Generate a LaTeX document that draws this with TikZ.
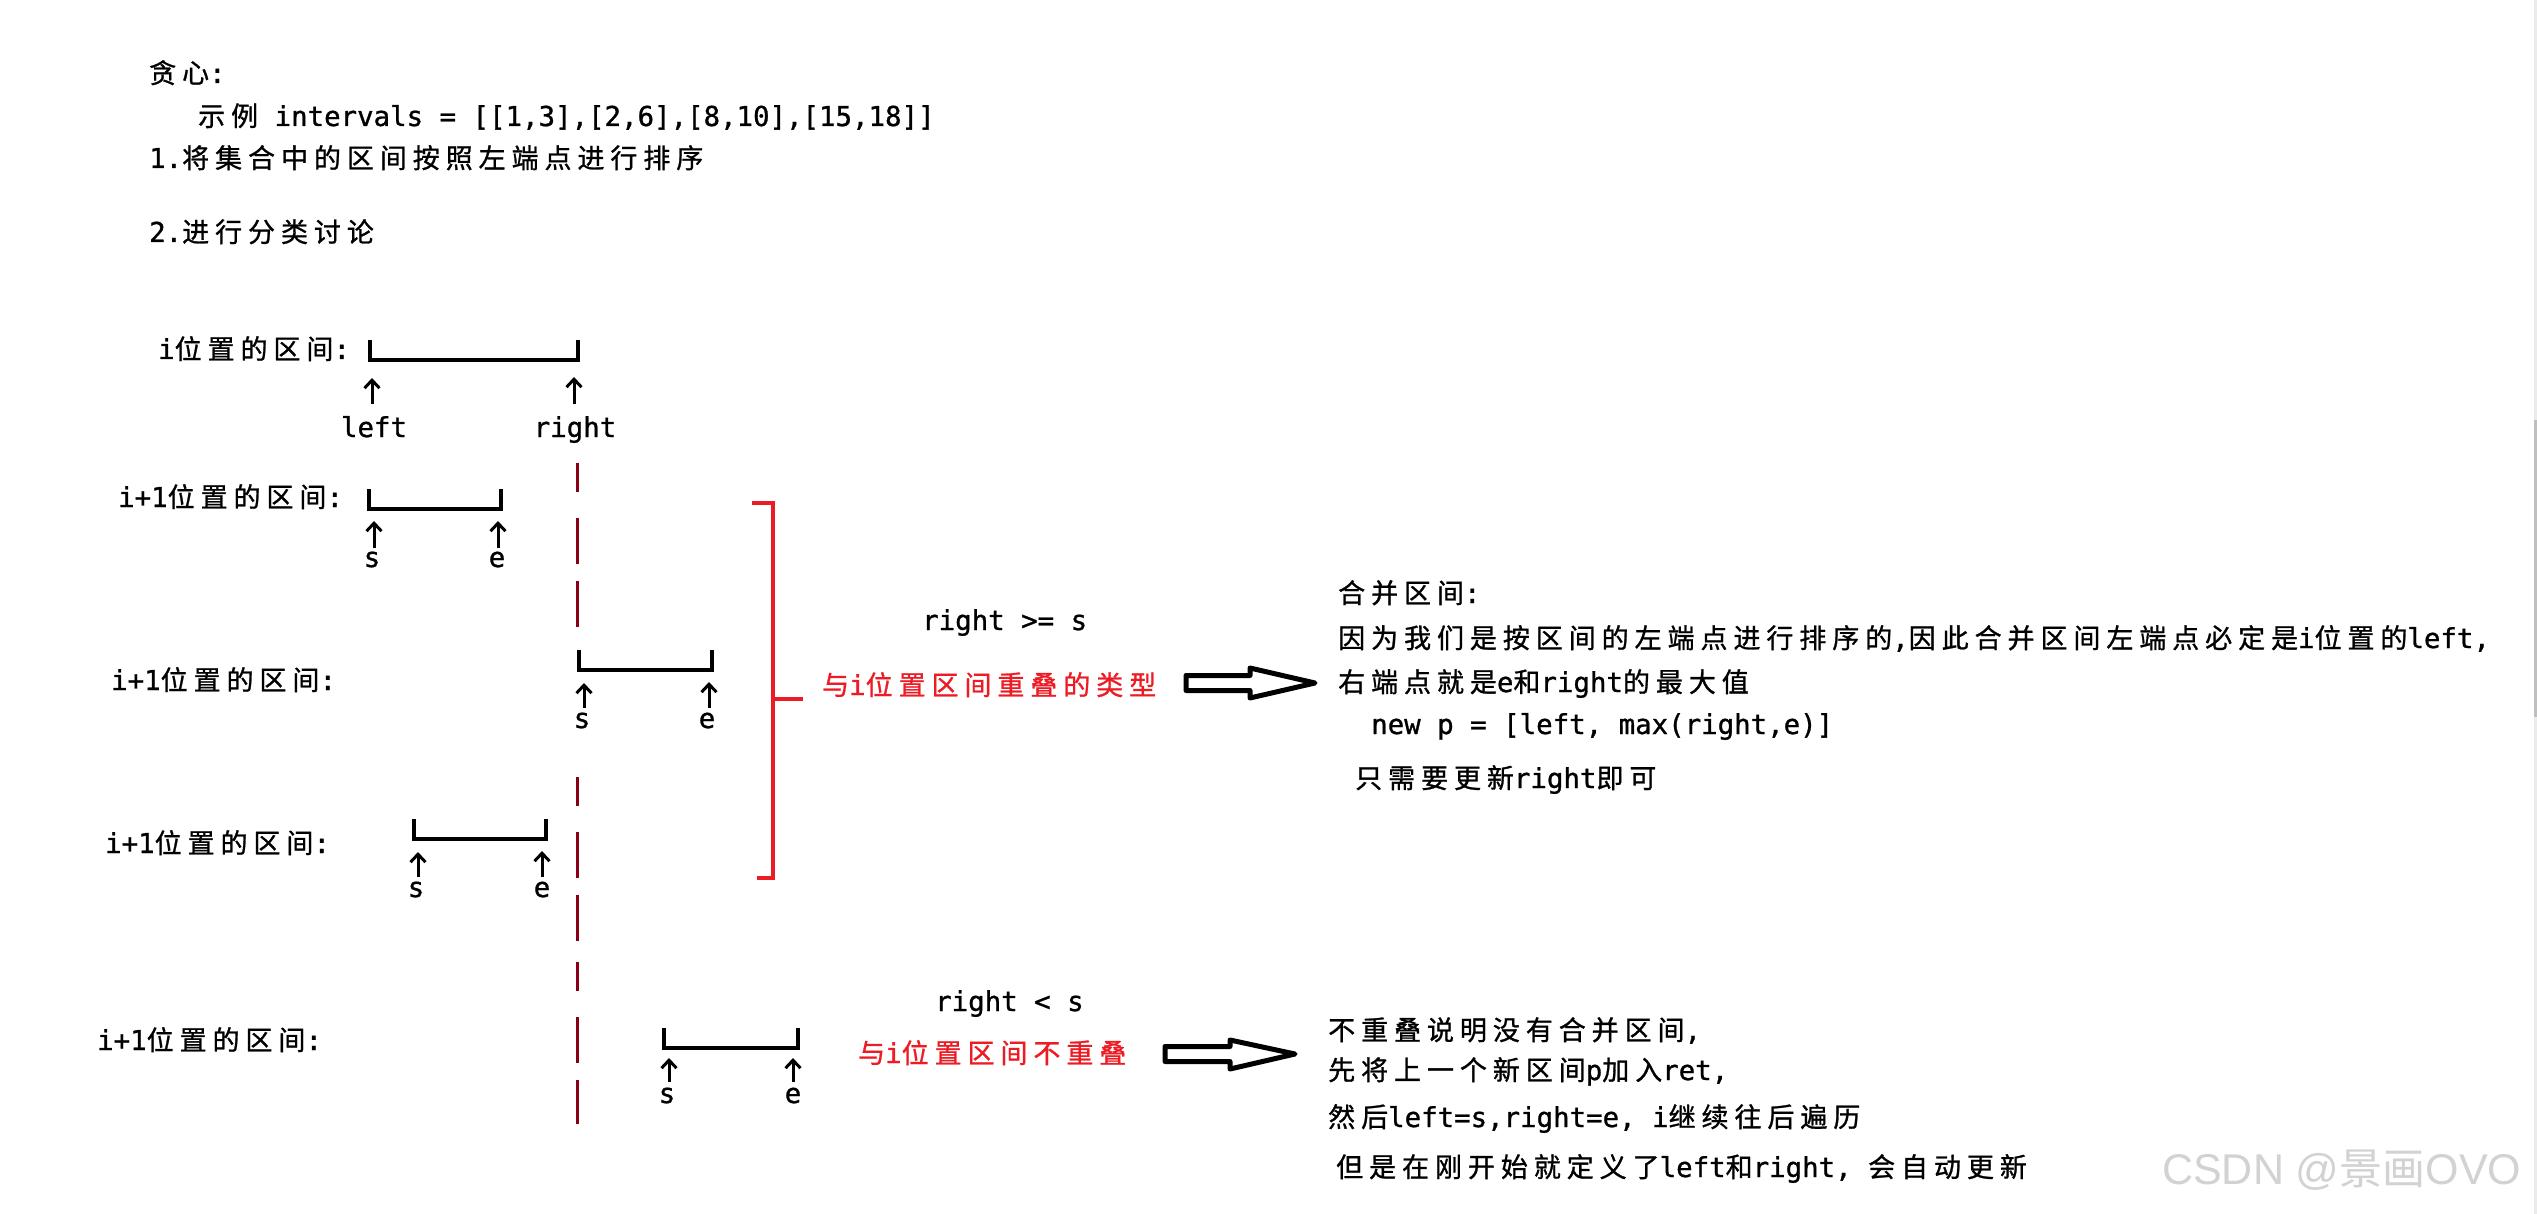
\documentclass[tikz,border=0pt]{standalone}
\usepackage{fontspec}
\setmainfont{Noto Sans CJK SC}[LetterSpace=22, FakeBold=1]
\newfontfamily\lat{DejaVu Sans Mono}[Scale=1.015, FakeBold=1]
\newfontfamily\wmlat{Liberation Sans}
\newfontfamily\wmcjk{Noto Sans CJK SC}
\newcommand\la[1]{{\lat #1}}
\usetikzlibrary{arrows.meta}
\definecolor{redA}{HTML}{ED1C24}
\definecolor{darkredA}{HTML}{880015}
\definecolor{wmgray}{HTML}{D2D2D2}
\tikzset{
  txt/.style={inner sep=0pt, anchor=west, text height=23pt, text depth=3pt, font=\fontsize{27}{32}\selectfont},
  lbl/.style={inner sep=0pt, anchor=center, text height=23pt, text depth=3pt, font={\lat\fontsize{27}{32}\selectfont}},
  bracketline/.style={line width=4pt, line join=miter},
  uparr/.style={line width=3pt, -{Straight Barb[length=8pt,width=15pt]}},
  dashline/.style={draw=darkredA, line width=3pt, dash pattern=on 29pt off 26pt on 46pt off 17pt on 46pt off 21pt},
  redbr/.style={draw=redA, line width=4pt},
  hollow/.style={line width=5pt, line join=round, fill=white}
}
\begin{document}
\begin{tikzpicture}[x=1pt,y=-1pt]
\fill[white] (0,0) rectangle (2537,1214);
\useasboundingbox (0,0) rectangle (2537,1214);

% scrollbar edge
\fill[black!8] (2534,0) rectangle (2537,1214);
\fill[black!25] (2534,420) rectangle (2537,717);

% header
\node[txt] (t1) at (149,73) {贪心\la{:}};
\node[txt] (t2) at (198,116) {示例\la{\ intervals = [[1,3],[2,6],[8,10],[15,18]]}};
\node[txt] (t3) at (149,158) {\la{1.}将集合中的区间按照左端点进行排序};
\node[txt] (t4) at (149,232) {\la{2.}进行分类讨论};

% row labels
\node[txt] (r1) at (158,349) {\la{i}位置的区间\la{:}};
\node[txt] (r2) at (118,497) {\la{i+1}位置的区间\la{:}};
\node[txt] (r3) at (111,680) {\la{i+1}位置的区间\la{:}};
\node[txt] (r4) at (105,843) {\la{i+1}位置的区间\la{:}};
\node[txt] (r5) at (97,1040) {\la{i+1}位置的区间\la{:}};

% dashed reference line
\coordinate (d1a) at (577,463); \coordinate (d1b) at (577,630);
\coordinate (d2a) at (577,777); \coordinate (d2b) at (577,1124);
\draw[dashline] (d1a) -- (d1b);
\draw[dashline] (d2a) -- (d2b);

% interval i
\draw[bracketline] (370,340) -- (370,360) -- (578,360) -- (578,340);
\node[lbl] (lf) at (374,427) {left};
\node[lbl] (rt) at (575,427) {right};
\draw[uparr] (372,404) -- (372,378);
\draw[uparr] (574,404) -- (574,377);

% interval i+1, row 2
\draw[bracketline] (369,489) -- (369,509) -- (501,509) -- (501,489);
\node[lbl] (s2) at (372,557) {s};
\node[lbl] (e2) at (497,557) {e};
\draw[uparr] (374,548) -- (374,521);
\draw[uparr] (498,548) -- (498,521);

% row 3
\draw[bracketline] (579,650) -- (579,670) -- (712,670) -- (712,650);
\node[lbl] (s3) at (582,718) {s};
\node[lbl] (e3) at (707,718) {e};
\draw[uparr] (584,708) -- (584,683);
\draw[uparr] (709,708) -- (709,682);

% row 4
\draw[bracketline] (414,819) -- (414,839) -- (546,839) -- (546,819);
\node[lbl] (s4) at (416,887) {s};
\node[lbl] (e4) at (542,887) {e};
\draw[uparr] (418,877) -- (418,852);
\draw[uparr] (542,877) -- (542,851);

% row 5
\draw[bracketline] (664,1028) -- (664,1048) -- (798,1048) -- (798,1028);
\node[lbl] (s5) at (667,1093) {s};
\node[lbl] (e5) at (793,1093) {e};
\draw[uparr] (669,1082) -- (669,1058);
\draw[uparr] (793,1082) -- (793,1058);

% red bracket
\draw[redbr] (752,503) -- (773,503) -- (773,878) -- (757,878);
\draw[redbr] (773,699) -- (803,699);

% overlap case
\node[txt] (c1) at (922,620) {\la{right >= s}};
\node[txt,text=redA] (c1r) at (822,685) {与\la{i}位置区间重叠的类型};
\draw[hollow] (1186,675.5) -- (1250,675.5) -- (1250,668) -- (1315,683) -- (1250,698) -- (1250,690.5) -- (1186,690.5) -- cycle;

\node[txt] (m1) at (1338,593) {合并区间\la{:}};
\node[txt] (m2) at (1338,638) {因为我们是按区间的左端点进行排序的\la{,}因此合并区间左端点必定是\la{i}位置的\la{left,}};
\node[txt] (m3) at (1338,682) {右端点就是\la{e}和\la{right}的最大值};
\node[txt] (m4) at (1371,724) {\la{new p = [left, max(right,e)]}};
\node[txt] (m5) at (1355,778) {只需要更新\la{right}即可};

% non-overlap case
\node[txt] (c2) at (935,1001) {\la{right < s}};
\node[txt,text=redA] (c2r) at (858,1053) {与\la{i}位置区间不重叠};
\draw[hollow] (1165,1046.5) -- (1230,1046.5) -- (1230,1040) -- (1295,1054) -- (1230,1069) -- (1230,1061.5) -- (1165,1061.5) -- cycle;

\node[txt] (n1) at (1328,1030) {不重叠说明没有合并区间\la{,}};
\node[txt] (n2) at (1328,1070) {先将上一个新区间\la{p}加入\la{ret,}};
\node[txt] (n3) at (1328,1117) {然后\la{left=s,right=e,\ i}继续往后遍历};
\node[txt] (n4) at (1336,1167) {但是在刚开始就定义了\la{left}和\la{right,\ }会自动更新};

% watermark
\node[inner sep=0pt, anchor=west, text=wmgray, font=\fontsize{43}{48}\selectfont] (wm) at (2162,1170) {\wmlat CSDN @{\wmcjk 景画}OVO};
\end{tikzpicture}
\end{document}
